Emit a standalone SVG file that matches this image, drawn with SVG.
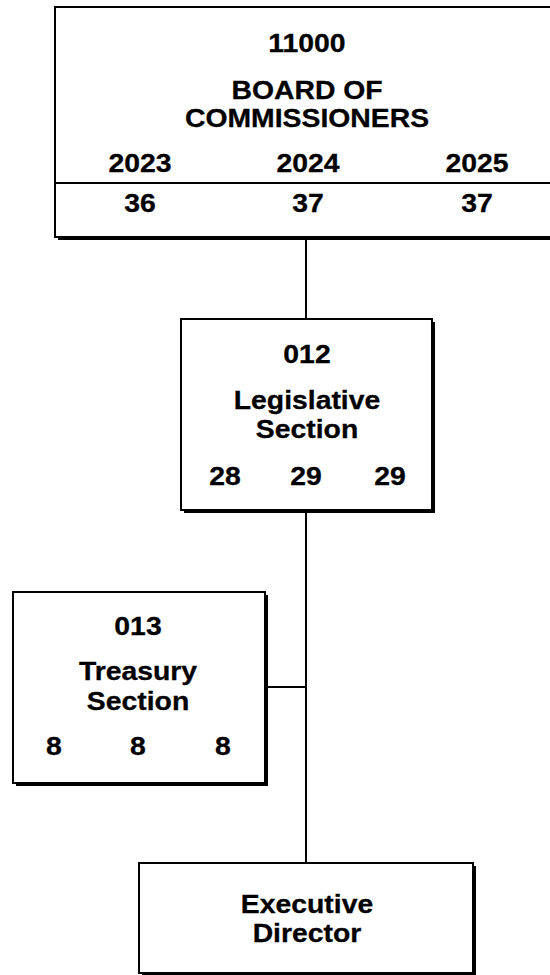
<svg xmlns="http://www.w3.org/2000/svg" width="550" height="975" viewBox="0 0 550 975">
<defs>
<style>
.box{fill:#fff;stroke:#000;stroke-width:2}
.sh{fill:#000}
.t{font-family:"Liberation Sans",Arial,sans-serif;font-weight:bold;font-size:26.5px;fill:#000;stroke:#000;stroke-width:0.3;text-anchor:middle}
.ln{stroke:#000;stroke-width:2;fill:none}
</style>
</defs>
<rect width="550" height="975" fill="#fff"/>
<g id="connectors">
<line class="ln" x1="306" y1="240" x2="306" y2="319"/>
<line class="ln" x1="306" y1="510" x2="306" y2="863"/>
<line class="ln" x1="265" y1="687" x2="306" y2="687"/>
</g>
<g id="board">
<rect class="sh" x="58" y="10" width="520" height="230"/>
<rect class="box" x="55" y="7" width="520" height="230"/>
<line class="ln" x1="55" y1="183" x2="575" y2="183"/>
<text class="t" transform="translate(307 52) scale(1.07 1)">11000</text>
<text class="t" transform="translate(307 99) scale(1.07 1)">BOARD OF</text>
<text class="t" transform="translate(307 127) scale(1.07 1)">COMMISSIONERS</text>
<text class="t" transform="translate(140 172) scale(1.07 1)">2023</text>
<text class="t" transform="translate(308 172) scale(1.07 1)">2024</text>
<text class="t" transform="translate(477 172) scale(1.07 1)">2025</text>
<text class="t" transform="translate(140 212) scale(1.07 1)">36</text>
<text class="t" transform="translate(308 212) scale(1.07 1)">37</text>
<text class="t" transform="translate(477 212) scale(1.07 1)">37</text>
</g>
<g id="legislative">
<rect class="sh" x="184" y="322" width="251" height="191"/>
<rect class="box" x="181" y="319" width="251" height="191"/>
<text class="t" transform="translate(307 363) scale(1.07 1)">012</text>
<text class="t" transform="translate(307 409) scale(1.07 1)">Legislative</text>
<text class="t" transform="translate(307 438) scale(1.07 1)">Section</text>
<text class="t" transform="translate(225 485) scale(1.07 1)">28</text>
<text class="t" transform="translate(306 485) scale(1.07 1)">29</text>
<text class="t" transform="translate(390 485) scale(1.07 1)">29</text>
</g>
<g id="treasury">
<rect class="sh" x="16" y="595" width="252" height="191"/>
<rect class="box" x="13" y="592" width="252" height="191"/>
<text class="t" transform="translate(138 635) scale(1.07 1)">013</text>
<text class="t" transform="translate(138 680) scale(1.07 1)">Treasury</text>
<text class="t" transform="translate(138 710) scale(1.07 1)">Section</text>
<text class="t" transform="translate(54 755) scale(1.07 1)">8</text>
<text class="t" transform="translate(138 755) scale(1.07 1)">8</text>
<text class="t" transform="translate(223 755) scale(1.07 1)">8</text>
</g>
<g id="executive">
<rect class="sh" x="142" y="866" width="334" height="110"/>
<rect class="box" x="139" y="863" width="334" height="110"/>
<text class="t" transform="translate(307 913) scale(1.07 1)">Executive</text>
<text class="t" transform="translate(307 942) scale(1.07 1)">Director</text>
</g>
</svg>
